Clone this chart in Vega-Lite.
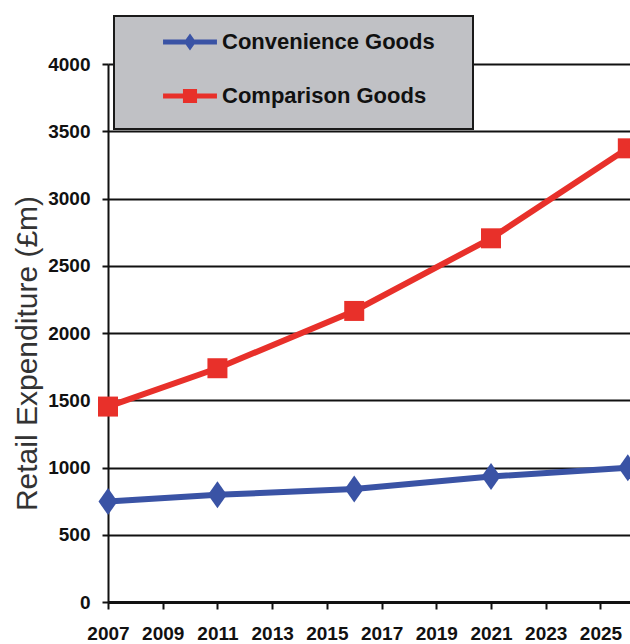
{
  "$schema": "https://vega.github.io/schema/vega-lite/v6.json",
  "width": 522,
  "height": 538,
  "autosize": {"type": "none"},
  "padding": {"left": 108, "top": 64, "right": 0, "bottom": 42},
  "background": "white",
  "config": {"view": {"stroke": null}, "font": "Liberation Sans", "legend": {"strokeWidth": 2}},
  "data": {
    "values": [
      {"year": 2007, "series": "Convenience Goods", "value": 747},
      {"year": 2011, "series": "Convenience Goods", "value": 797},
      {"year": 2016, "series": "Convenience Goods", "value": 840},
      {"year": 2021, "series": "Convenience Goods", "value": 933},
      {"year": 2026, "series": "Convenience Goods", "value": 998},
      {"year": 2007, "series": "Comparison Goods", "value": 1453},
      {"year": 2011, "series": "Comparison Goods", "value": 1738},
      {"year": 2016, "series": "Comparison Goods", "value": 2164},
      {"year": 2021, "series": "Comparison Goods", "value": 2704},
      {"year": 2026, "series": "Comparison Goods", "value": 3373}
    ]
  },
  "encoding": {
    "x": {
      "field": "year",
      "type": "quantitative",
      "scale": {"domain": [2007, 2026.08], "nice": false, "zero": false},
      "axis": {
        "values": [2007, 2009, 2011, 2013, 2015, 2017, 2019, 2021, 2023, 2025],
        "format": "d",
        "grid": false,
        "title": null,
        "domainColor": "#111",
        "domainWidth": 3,
        "tickColor": "#111",
        "tickWidth": 2,
        "tickSize": 7,
        "labelFont": "Liberation Sans",
        "labelFontWeight": "bold",
        "labelFontSize": 19,
        "labelColor": "#111",
        "labelPadding": 15,
        "labelFlush": false,
        "labelOverlap": false
      }
    },
    "y": {
      "field": "value",
      "type": "quantitative",
      "scale": {"domain": [0, 4000], "nice": false},
      "axis": {
        "values": [0, 500, 1000, 1500, 2000, 2500, 3000, 3500, 4000],
        "format": "d",
        "grid": true,
        "gridColor": "#111",
        "gridWidth": 2,
        "domainColor": "#111",
        "domainWidth": 2,
        "tickColor": "#111",
        "tickWidth": 2,
        "tickSize": 6,
        "labelPadding": 12,
        "labelFont": "Liberation Sans",
        "labelFontWeight": "bold",
        "labelFontSize": 19,
        "labelColor": "#111",
        "labelBaseline": "middle",
        "title": "Retail Expenditure (£m)",
        "titleFont": "Liberation Sans",
        "titleFontWeight": "normal",
        "titleFontSize": 30,
        "titleColor": "#333",
        "titleAngle": 270,
        "titleAlign": "center",
        "titleBaseline": "alphabetic",
        "titleX": -72,
        "titleY": 289
      }
    }
  },
  "layer": [
    {
      "mark": {"type": "point", "filled": true, "opacity": 1, "size": 0},
      "encoding": {
        "color": {
          "field": "series",
          "type": "nominal",
          "scale": {
            "domain": ["Convenience Goods", "Comparison Goods"],
            "range": ["#3a53a5", "#e8302a"]
          },
          "legend": {
            "orient": "none",
            "legendX": 6,
            "legendY": -48,
            "title": null,
            "fillColor": "#c0c1c5",
            "strokeColor": "#1a1a1a",
            "padding": 15,
            "symbolSize": 484,
            "symbolOffset": 50,
            "symbolOpacity": 1,
            "symbolStrokeWidth": 0,
            "labelOffset": 21,
            "rowPadding": 32,
            "labelFont": "Liberation Sans",
            "labelFontWeight": "bold",
            "labelFontSize": 22,
            "labelColor": "#111",
            "labelBaseline": "middle",
            "labelLimit": 400
          }
        },
        "shape": {
          "field": "series",
          "type": "nominal",
          "scale": {
            "domain": ["Convenience Goods", "Comparison Goods"],
            "range": [
              "M-2.45,-0.23L-0.39,-0.23L0,-0.77L0.39,-0.23L2.45,-0.23L2.45,0.23L0.39,0.23L0,0.77L-0.39,0.23L-2.45,0.23Z M24.36,0",
              "M-2.45,-0.23L-0.64,-0.23L-0.64,-0.64L0.64,-0.64L0.64,-0.23L2.45,-0.23L2.45,0.23L0.64,0.23L0.64,0.64L-0.64,0.64L-0.64,0.23L-2.45,0.23Z M24.36,1.57"
            ]
          }
        }
      }
    },
    {
      "mark": {"type": "line", "strokeWidth": 6},
      "encoding": {"color": {"field": "series", "type": "nominal", "legend": null}}
    },
    {
      "transform": [{"filter": "datum.series === 'Convenience Goods'"}],
      "mark": {"type": "point", "filled": true, "opacity": 1, "size": 400, "shape": "M0,-1.35L0.95,0L0,1.35L-0.95,0Z"},
      "encoding": {"color": {"field": "series", "type": "nominal", "legend": null}}
    },
    {
      "transform": [{"filter": "datum.series === 'Comparison Goods'"}],
      "mark": {"type": "point", "filled": true, "opacity": 1, "size": 400, "shape": "square"},
      "encoding": {"color": {"field": "series", "type": "nominal", "legend": null}}
    }
  ]
}
